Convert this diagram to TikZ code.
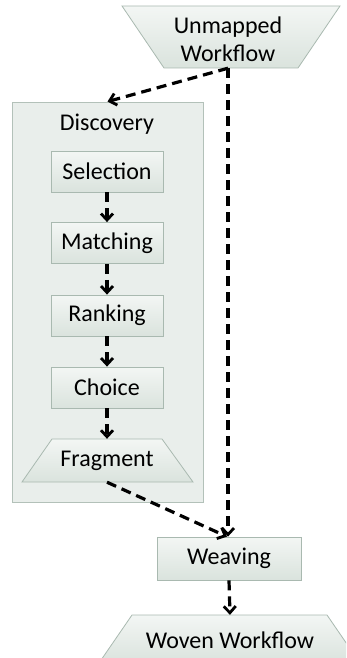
\documentclass[tikz,border=0pt]{standalone}
\usepackage{fontspec}
\setmainfont{Carlito}
\usetikzlibrary{arrows.meta}
\definecolor{bfillA}{HTML}{F3F6F4}
\definecolor{bfillB}{HTML}{DAE3DD}
\definecolor{bdraw}{HTML}{A9B9B0}
\definecolor{dfill}{HTML}{E9EEEB}
\definecolor{ddraw}{HTML}{B3C1B9}
\begin{document}
\begin{tikzpicture}[x=1pt,y=-1pt,
  txt/.style={font=\fontsize{24}{28}\selectfont, text=black, inner sep=0pt},
  stepbox/.style={txt, draw=bdraw, line width=0.8pt, top color=bfillA, bottom color=bfillB},
  shapefill/.style={draw=bdraw, line width=0.8pt, top color=bfillA, bottom color=bfillB},
  container/.style={draw=ddraw, line width=0.8pt, fill=dfill, inner sep=0pt},
  conn/.style={line width=3.2pt, dash pattern=on 10pt off 6pt, -{Straight Barb[length=6.5pt,width=12pt,line width=2.8pt]}}
]
\clip (0,0) rectangle (346,658);
% Discovery container
\node[container, minimum width=191pt, minimum height=400pt] (disc) at (107.5,302) {};
\node[txt] (disclabel) at (107,124) {Discovery};
% inner steps
\node[stepbox, minimum width=112pt, minimum height=41pt] (sel) at (107,171.5) {Selection};
\node[stepbox, minimum width=112pt, minimum height=41pt] (mat) at (107,243) {Matching};
\node[stepbox, minimum width=112pt, minimum height=41pt] (ran) at (107,315.5) {Ranking};
\node[stepbox, minimum width=112pt, minimum height=41pt] (cho) at (107,387.5) {Choice};
% Fragment trapezoid
\path[shapefill] (52,439) -- (162,439) -- (193,482) -- (22,482) -- cycle;
\node[txt, minimum width=110pt, minimum height=43pt] (frag) at (107,460.5) {Fragment};
% Unmapped workflow (inverted trapezoid)
\path[shapefill] (122,6) -- (340,6) -- (298,68) -- (164,68) -- cycle;
\node[txt, align=center, minimum height=58pt] (um) at (228,39) {Unmapped\\Workflow};
% Weaving
\node[stepbox, minimum width=144pt, minimum height=43pt] (weav) at (229,558.5) {Weaving};
% Woven workflow trapezoid
\path[shapefill] (132,615) -- (327,615) -- (360,663) -- (99,663) -- cycle;
\node[txt, minimum height=50pt] (wov) at (230,640) {Woven Workflow};
% connectors
\draw[conn] (um.south) -- (disc.north);
\draw[conn] (um.south) -- (um.south |- weav.north);
\draw[conn] (sel.south) -- (mat.north);
\draw[conn] (mat.south) -- (ran.north);
\draw[conn] (ran.south) -- (cho.north);
\draw[conn] (cho.south) -- (frag.north);
\draw[conn] (frag.south) -- ([xshift=-2pt]weav.north);
\draw[conn] (weav.south) -- (wov.north);
\end{tikzpicture}
\end{document}
